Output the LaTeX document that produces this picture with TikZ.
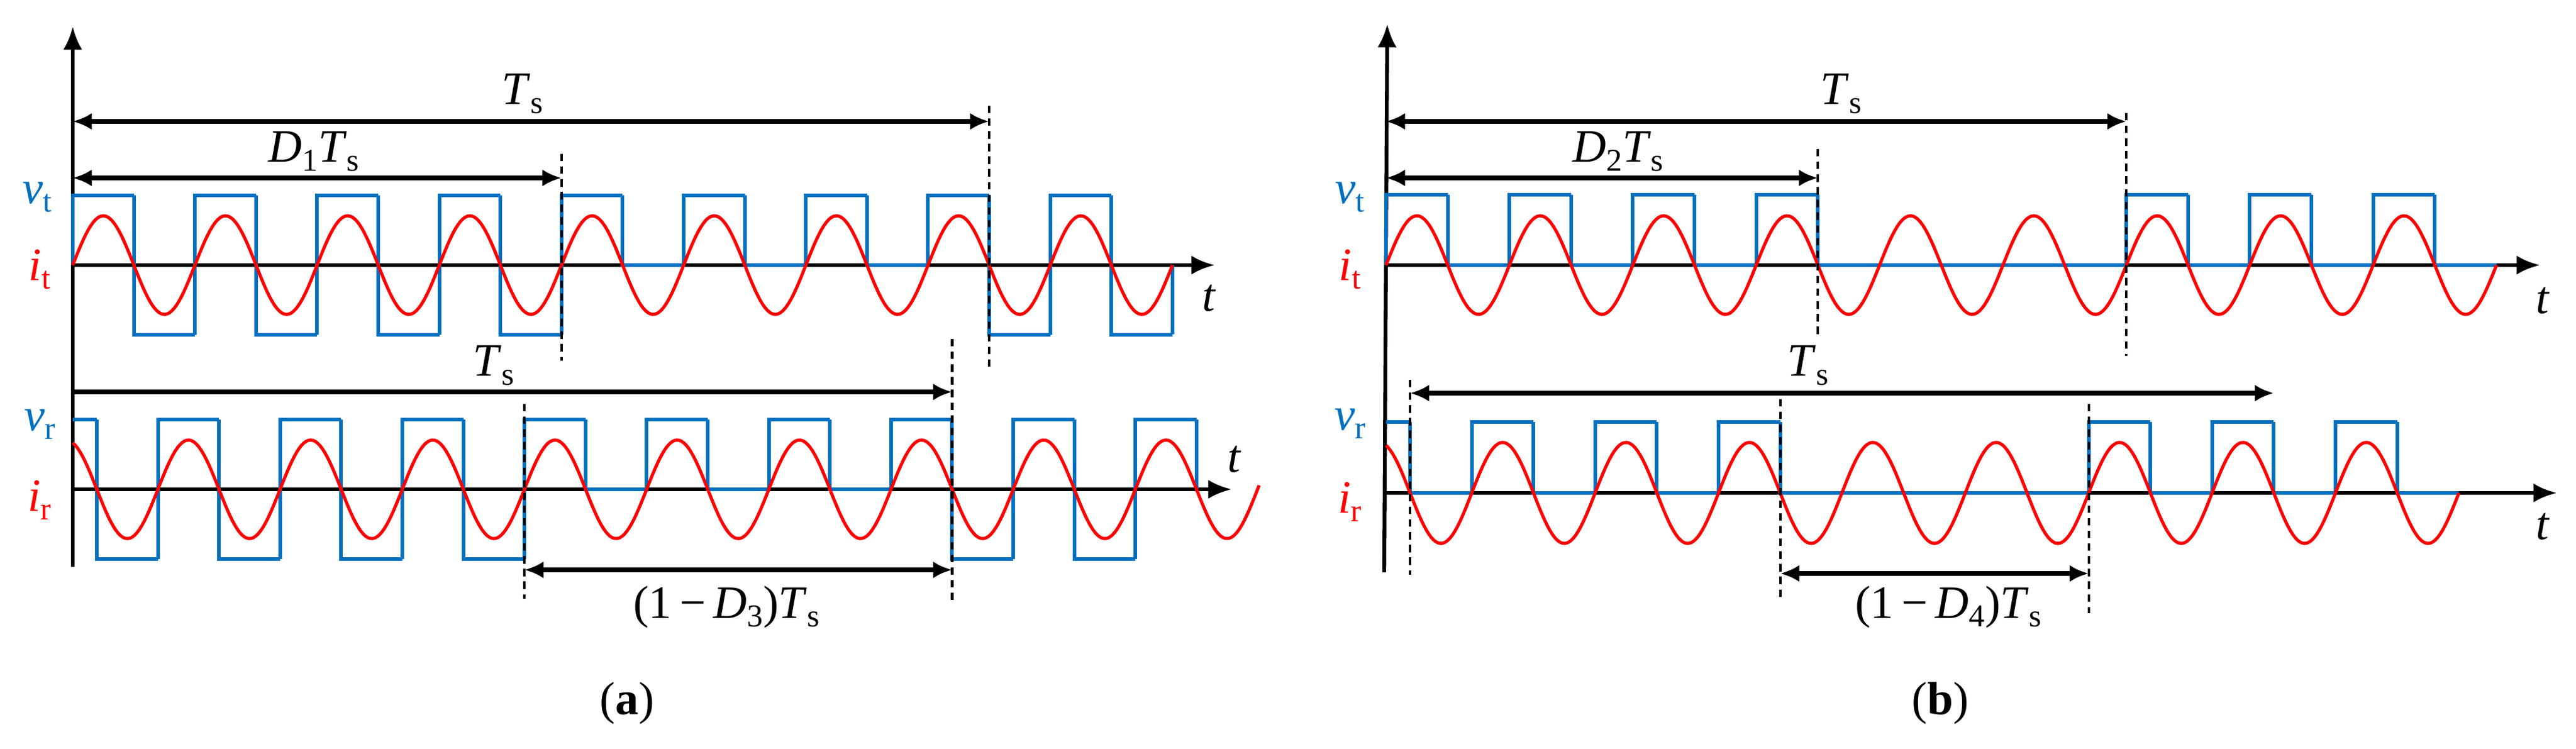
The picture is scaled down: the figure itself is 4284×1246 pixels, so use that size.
\documentclass[tikz,border=0pt]{standalone}
\usepackage{fontspec}
\setmainfont{Liberation Serif}
\usetikzlibrary{arrows.meta}
\definecolor{wblue}{RGB}{0,112,192}
\newcommand\lsub[1]{\raisebox{-0.4ex}{\fontsize{15}{17}\selectfont #1}}
\newcommand\sqw[6]{%
 \foreach \v [count=\k from 0, remember=\v as \p (initially #5)] in {#6} {
   \draw[sq] ({#1+\k*#2},{#3-(\p)*#4}) -- ({#1+\k*#2},{#3-(\v)*#4}) -- ({#1+(\k+1)*#2},{#3-(\v)*#4});
 }}
\begin{document}
\begin{tikzpicture}[x=0.01cm,y=-0.01cm,
  ax/.style={line width=1.8pt,-{Latex[length=11pt,width=9pt]}},
  sq/.style={wblue,line width=1.7pt,line cap=square},
  sn/.style={red,line width=1.5pt},
  dim/.style={line width=2pt,{Latex[length=9pt,width=8pt]}-{Latex[length=9pt,width=8pt]}},
  dimr/.style={line width=2pt,-{Latex[length=9pt,width=8pt]}},
  dsh/.style={line width=1.2pt,dash pattern=on 3.5pt off 2.5pt},
  lab/.style={font=\fontsize{22}{25}\selectfont,inner sep=0pt},
  bl/.style={lab,text=wblue}, rd/.style={lab,text=red}]
\useasboundingbox (0,0) rectangle (4284,1246);
% ================= (a) =================
\def\xa{121} \def\h{101.6} \def\xb{161}
\draw[ax] (\xa,943) -- (\xa,44);
\draw[ax] (\xa,441) -- (2020,441);
\draw[ax] (\xa,814) -- (2048,814);
\sqw{\xa}{\h}{441}{116}{0}{1,-1,1,-1,1,-1,1,-1,1,0,1,0,1,0,1,-1,1,-1}
\draw[sq] ({\xa+18*\h},556) -- ({\xa+18*\h},441);
\draw[sn] plot[domain=\xa:{\xa+18*\h},samples=500] (\x,{441-82*sin((\x-\xa)/\h*180)});
\draw[sq] (\xa,698) -- (\xb,698);
\sqw{\xb}{\h}{814}{116}{1}{-1,1,-1,1,-1,1,-1,1,0,1,0,1,0,1,-1,1,-1,1}
\draw[sq] ({\xb+18*\h},698) -- ({\xb+18*\h},814);
\draw[sn] plot[domain=\xa:2094,samples=500] (\x,{814+82*sin((\x-\xb)/\h*180)});
\draw[dsh] ({\xa+8*\h},256) -- ({\xa+8*\h},600);
\draw[dsh] ({\xa+15*\h},176) -- ({\xa+15*\h},612);
\draw[dsh] ({\xb+7*\h},672) -- ({\xb+7*\h},996);
\draw[dsh] ({\xb+14*\h},564) -- ({\xb+14*\h},1000);
\draw[dim] (\xa,202) -- ({\xa+15*\h},202);
\draw[dim] (\xa,296) -- ({\xa+8*\h},296);
\draw[dimr] (\xa,652) -- ({\xb+14*\h},652);
\draw[dim] ({\xb+7*\h},948) -- ({\xb+14*\h},948);
\node[lab] (a1) at (869,156) {\textit{T}\lsub{s}};
\node[lab] (a2) at (522,252) {\textit{D}\lsub{1}\textit{T}\lsub{s}};
\node[lab] (a3) at (821,608) {\textit{T}\lsub{s}};
\node[lab] (a4) at (1208,1010) {(1\,−\,\textit{D}\lsub{3})\textit{T}\lsub{s}};
\node[lab] (a5) at (2011,496) {\textit{t}};
\node[lab] (a6) at (2053,764) {\textit{t}};
\node[bl] (a7) at (62,328) {\textit{v}\lsub{t}};
\node[rd] (a8) at (66,448) {\textit{i}\lsub{t}};
\node[bl] (a9) at (66,706) {\textit{v}\lsub{r}};
\node[rd] (a10) at (66,832) {\textit{i}\lsub{r}};
\node[lab] (a11) at (1043,1170) {(\textbf{a})};
% ================= (b) =================
\def\ya{2305} \def\hb{102.6} \def\yb{2345}
\draw[ax] (2302,952) -- (2307,40);
\draw[ax] (\ya,441) -- (4224,441);
\draw[ax] (\ya,820) -- (4252,820);
\sqw{\ya}{\hb}{441}{117}{0}{1,0,1,0,1,0,1,0,0,0,0,0,1,0,1,0,1,0}
\draw[sn] plot[domain=\ya:{\ya+18*\hb},samples=500] (\x,{441-82*sin((\x-\ya)/\hb*180)});
\draw[sq] (\ya,702) -- (\yb,702);
\sqw{\yb}{\hb}{820}{118}{1}{0,1,0,1,0,1,0,0,0,0,0,1,0,1,0,1,0}
\draw[sn] plot[domain=\ya:{\yb+17*\hb},samples=500] (\x,{820+84*sin((\x-\yb)/\hb*180)});
\draw[dsh] ({\ya+7*\hb},248) -- ({\ya+7*\hb},560);
\draw[dsh] ({\ya+12*\hb},188) -- ({\ya+12*\hb},592);
\draw[dsh] (\yb,632) -- (\yb,956);
\draw[dsh] ({\yb+6*\hb},664) -- ({\yb+6*\hb},996);
\draw[dsh] ({\yb+11*\hb},672) -- ({\yb+11*\hb},1020);
\draw[dim] (\ya,202) -- ({\ya+12*\hb},202);
\draw[dim] (\ya,296) -- ({\ya+7*\hb},296);
\draw[dim] (\yb,654) -- ({\yb+14*\hb},654);
\draw[dim] ({\yb+6*\hb},954) -- ({\yb+11*\hb},954);
\node[lab] (b1) at (3062,156) {\textit{T}\lsub{s}};
\node[lab] (b2) at (2691,252) {\textit{D}\lsub{2}\textit{T}\lsub{s}};
\node[lab] (b3) at (3007,608) {\textit{T}\lsub{s}};
\node[lab] (b4) at (3240,1010) {(1\,−\,\textit{D}\lsub{4})\textit{T}\lsub{s}};
\node[lab] (b5) at (4229,500) {\textit{t}};
\node[lab] (b6) at (4229,876) {\textit{t}};
\node[bl] (b7) at (2245,328) {\textit{v}\lsub{t}};
\node[rd] (b8) at (2245,448) {\textit{i}\lsub{t}};
\node[bl] (b9) at (2245,705) {\textit{v}\lsub{r}};
\node[rd] (b10) at (2245,835) {\textit{i}\lsub{r}};
\node[lab] (b11) at (3227,1170) {(\textbf{b})};
\end{tikzpicture}
\end{document}
